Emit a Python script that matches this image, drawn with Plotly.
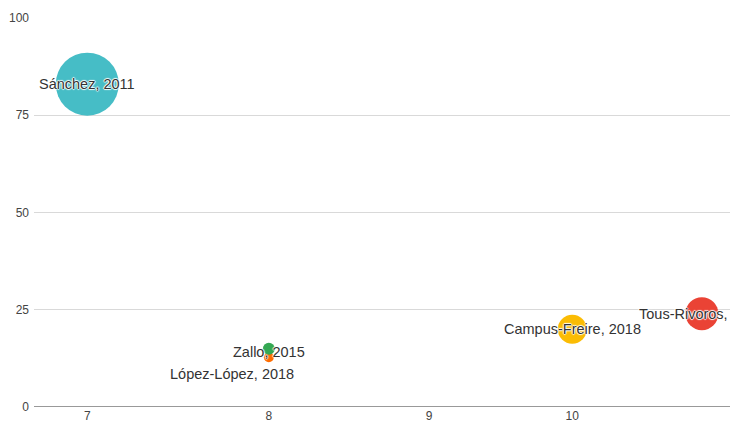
import numpy as np
import plotly.graph_objects as go

labels = ["López-López, 2018", "Zallo, 2015", "Sánchez, 2011", "Campus-Freire, 2018", "Tous-Rivoros, 2018"]
x_vals = [8, 8, 7, 10, 11]
y_vals = [12.8, 15, 83, 20, 24]
bubble_vals = [10, 12, 63, 29, 33]
colors = ["#FF6D01", "#34A853", "#46BDC6", "#FBBC04", "#EA4335"]
x_ticks = [7, 8, 9, 10]
y_ticks = [0, 25, 50, 75, 100]

fig = go.Figure()
for lab, xv, yv, bv, c in zip(labels, x_vals, y_vals, bubble_vals, colors):
    fig.add_trace(go.Scatter(
        x=[xv], y=[yv], mode="markers", name=lab,
        marker=dict(size=[bv], sizemode="diameter", sizeref=1, color=c, opacity=1,
                    line=dict(width=0)),
        hoverinfo="text", hovertext=[lab], cliponaxis=True,
    ))

halo = "1px 0 1px #fff, -1px 0 1px #fff, 0 1px 1px #fff, 0 -1px 1px #fff"
shifts = {"López-López, 2018": (-37, -17), "Zallo, 2015": (0, -3)}
for lab, xv, yv in zip(labels, x_vals, y_vals):
    dx, dy = shifts.get(lab, (0, 0))
    fig.add_annotation(
        x=np.log10(xv), y=yv, xref="x", yref="y", text=lab, showarrow=False,
        xshift=dx, yshift=dy,
        font=dict(family="Liberation Sans, Arial, sans-serif", size=14.5, color="#333333", shadow=halo),
    )

tickfont = dict(family="Liberation Sans, Arial, sans-serif", size=12, color="#444444")
fig.update_layout(
    width=730, height=425,
    margin=dict(l=34, r=0, t=18, b=18, autoexpand=False),
    paper_bgcolor="white", plot_bgcolor="white",
    showlegend=False,
    font=dict(family="Liberation Sans, Arial, sans-serif", size=12, color="#444444"),
)
fig.update_xaxes(
    type="log", range=[np.log10(6.731), np.log10(11.23)],
    tickvals=x_ticks, ticktext=[str(t) for t in x_ticks], tickfont=tickfont,
    showgrid=False, zeroline=False, showline=False, ticks="", automargin=False,
)
fig.update_yaxes(
    range=[0, 100], tickvals=y_ticks, tickfont=tickfont,
    showgrid=True, gridcolor="#d9d9d9", gridwidth=1,
    zeroline=False, showline=False, ticks="", ticklabelstandoff=4, automargin=False,
)
fig.add_hline(y=0, line=dict(color="#333333", width=1))
fig.write_html("out.html", config={"displayModeBar": False},
               post_script="document.body.style.margin='0';")
